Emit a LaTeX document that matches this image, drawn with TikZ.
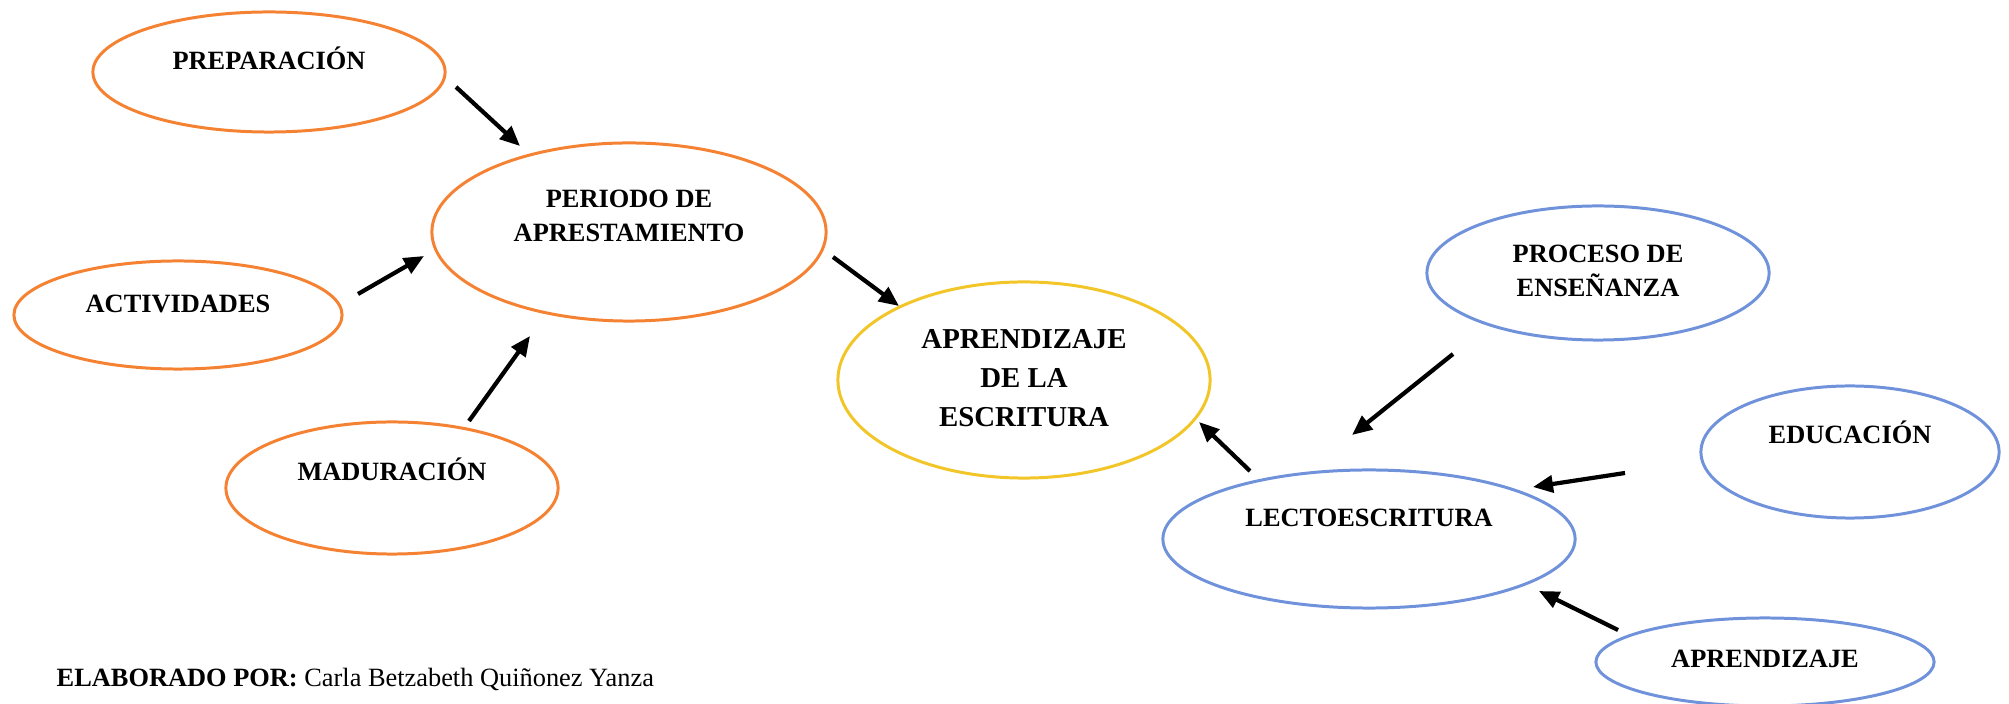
\documentclass[tikz,border=0pt]{standalone}
\usepackage{fontspec}
\setmainfont{Liberation Serif}
\usetikzlibrary{shapes.geometric, arrows.meta, positioning}

\definecolor{ringorange}{RGB}{245,130,50}
\definecolor{ringgold}{RGB}{242,197,40}
\definecolor{ringblue}{RGB}{112,146,218}

\tikzset{
  oval/.style = {ellipse, draw, line width=0.85pt, inner sep=0pt},
  txt/.style = {font=\fontsize{7.5}{9.8}\selectfont\bfseries, align=center, inner sep=0pt},
  bigtxt/.style = {font=\fontsize{8.2}{11}\selectfont\bfseries, align=center, inner sep=0pt},
  link/.style = {-{Triangle[length=0.2cm, width=0.17cm]}, line width=1.2pt}
}

\begin{document}
\begin{tikzpicture} [x=0.01cm, y=-0.01cm]
\useasboundingbox (0,0) rectangle (2009,704);

\node (prep) [oval, draw=ringorange, minimum width=3.52cm, minimum height=1.2cm,
  label={[txt, yshift=0.14cm]center:PREPARACIÓN}] at (269,72) {};
\node (periodo) [oval, draw=ringorange, minimum width=3.94cm, minimum height=1.78cm,
  label={[txt, yshift=0.16cm]center:PERIODO DE\\APRESTAMIENTO}] at (629,232) {};
\node (activ) [oval, draw=ringorange, minimum width=3.28cm, minimum height=1.08cm,
  label={[txt, yshift=0.11cm]center:ACTIVIDADES}] at (178,315) {};
\node (madur) [oval, draw=ringorange, minimum width=3.32cm, minimum height=1.32cm,
  label={[txt, yshift=0.19cm]center:MADURACIÓN}] at (392,488) {};
\node (escrit) [oval, draw=ringgold, minimum width=3.72cm, minimum height=1.96cm,
  label={[bigtxt, yshift=0.02cm]center:APRENDIZAJE\\DE LA\\ESCRITURA}] at (1024,380) {};
\node (lecto) [oval, draw=ringblue, minimum width=4.12cm, minimum height=1.38cm,
  label={[txt, yshift=0.21cm]center:LECTOESCRITURA}] at (1369,539) {};
\node (proceso) [oval, draw=ringblue, minimum width=3.42cm, minimum height=1.34cm,
  label={[txt, yshift=0.02cm]center:PROCESO DE\\ENSEÑANZA}] at (1598,273) {};
\node (educ) [oval, draw=ringblue, minimum width=2.98cm, minimum height=1.32cm,
  label={[txt, yshift=0.2cm]center:EDUCACIÓN}] at (1850,452) {};
\node (aprend) [oval, draw=ringblue, minimum width=3.38cm, minimum height=0.88cm,
  label={[txt, yshift=0.03cm]center:APRENDIZAJE}] at (1765,662) {};

\node (firma) [anchor=base west, inner sep=0pt, font=\fontsize{7.5}{9}\selectfont]
  at (56,687) {\textbf{ELABORADO POR:} Carla Betzabeth Quiñonez Yanza};

% arrow ends
\coordinate (prep1) at (456,87);    \coordinate (prep2) at (520,146);
\coordinate (activ1) at (358,294);  \coordinate (activ2) at (424,256);
\coordinate (madur1) at (469,421);  \coordinate (madur2) at (530,336);
\coordinate (peri1) at (833,257);   \coordinate (peri2) at (899,306);
\coordinate (lecto1) at (1250,471); \coordinate (lecto2) at (1199,422);
\coordinate (proc1) at (1453,354);  \coordinate (proc2) at (1352,435);
\coordinate (educ1) at (1625,473);  \coordinate (educ2) at (1533,487);
\coordinate (apr1) at (1618,630);   \coordinate (apr2) at (1539,591);

\path [link]
  (prep1) edge (prep2)
  (activ1) edge (activ2)
  (madur1) edge (madur2)
  (peri1) edge (peri2)
  (lecto1) edge (lecto2)
  (proc1) edge (proc2)
  (educ1) edge (educ2)
  (apr1) edge (apr2);
\end{tikzpicture}
\end{document}
